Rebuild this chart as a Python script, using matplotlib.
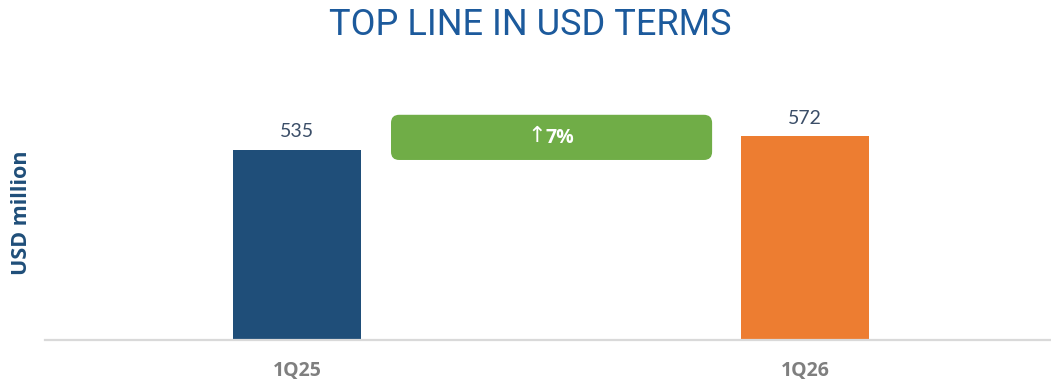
import matplotlib.pyplot as plt
from matplotlib.patches import FancyBboxPatch

# Quarterly top line, USD million
quarters = ["1Q25", "1Q26"]
revenue = [535, 572]
bar_colors = ["#1f4e79", "#ed7d31"]

growth = round((revenue[1] / revenue[0] - 1) * 100)

fig = plt.figure(figsize=(10.51, 3.84), dpi=100)
ax = fig.add_axes([45 / 1051, 44 / 384, 1006 / 1051, 280 / 384])

x = list(range(len(quarters)))
ax.bar(x, revenue, width=0.252, color=bar_colors, zorder=2)

for xi, val in zip(x, revenue):
    ax.text(xi, val + 28, f"{val}", ha="center", va="bottom",
            fontsize=14, color="#3b4e68", family="Lato")

ax.set_xlim(-0.496, 1.484)
ax.set_ylim(0, 787)

# growth badge between the two bars
badge = FancyBboxPatch((0.185, 506), 0.632, 127,
                       boxstyle="round,pad=0,rounding_size=0.016",
                       mutation_aspect=1430,
                       facecolor="#70ad47", edgecolor="none", zorder=3)
ax.add_patch(badge)
ax.text(0.490, 572, "\u2191", ha="right", va="center",
        fontsize=16, color="white", family="DejaVu Sans", zorder=4)
ax.text(0.489, 569, f"{growth}%", ha="left", va="center",
        fontsize=14, fontweight="bold", color="white",
        family="Open Sans", zorder=4)

ax.set_xticks(x)
ax.set_xticklabels(quarters, fontsize=14, fontweight="bold",
                   color="#7f7f7f", family="Open Sans")
ax.tick_params(axis="x", length=0, pad=15)
ax.set_yticks([])

for side in ["top", "right", "left"]:
    ax.spines[side].set_visible(False)
ax.spines["bottom"].set_color("#d9d9d9")
ax.spines["bottom"].set_linewidth(1.6)

fig.text(22 / 1051, 1 - 213 / 384, "USD million", rotation=90,
         ha="center", va="center", fontsize=15.5, fontweight="bold",
         color="#1f4e79", family="Open Sans")

fig.text(530 / 1051, 1 - 25 / 384, "TOP LINE IN USD TERMS", ha="center",
         va="center", fontsize=26, fontweight="normal", color="#1c5a9c",
         family="Roboto")

fig.savefig("out.png", dpi=100)
